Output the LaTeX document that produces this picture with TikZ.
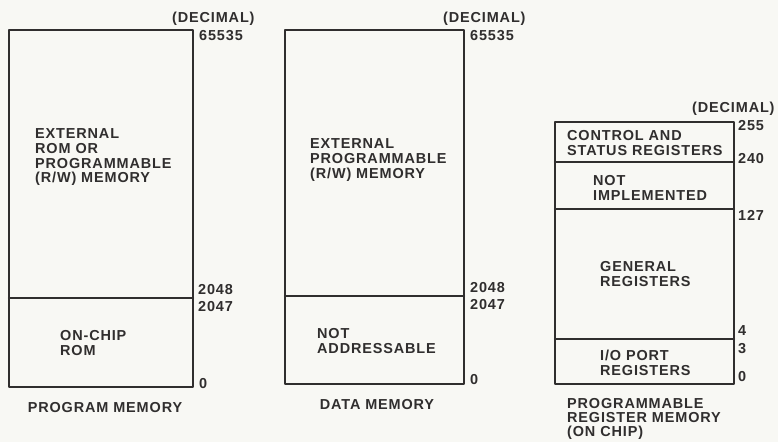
\documentclass[tikz,border=0pt]{standalone}
\usepackage{fontspec}
\setmainfont[LetterSpace=6]{Liberation Sans}
\usepackage{xcolor}
\definecolor{ink}{RGB}{48,46,46}
\definecolor{paper}{RGB}{248,248,244}

\begin{document}
\begin{tikzpicture}[
    x=1bp, y=-1bp,
    line cap=round,
    line join=round,
    memline/.style={line width=2.3bp, draw=ink},
    lbl/.style={font=\bfseries\fontsize{14.5}{15}\selectfont, text=ink, inner sep=0pt},
    addr/.style={lbl, anchor=base west},
    blk/.style={lbl, align=left, anchor=north west}
]

\fill[paper] (0,0) rectangle (778,442);
\useasboundingbox (0,0) rectangle (778,442);

%------------------------------------------------
% Program memory
%------------------------------------------------
\draw[memline] (9,30) rectangle (193,387);
\draw[memline] (9,298) -- (193,298);

\node[blk] (pext) at (35,128) {EXTERNAL\\ROM OR\\PROGRAMMABLE\\(R/W) MEMORY};
\node[blk] (prom) at (60,330) {ON-CHIP\\ROM};

\node[addr] (pdec)  at (172,23)  {(DECIMAL)};
\node[addr] (ptop)  at (199,41)  {65535};
\node[addr] (phi)   at (198,295) {2048};
\node[addr] (plo)   at (198,312) {2047};
\node[addr] (pzero) at (199,388) {0};
\node[lbl, anchor=base] (pname) at (105,412) {PROGRAM MEMORY};

%------------------------------------------------
% Data memory
%------------------------------------------------
\draw[memline] (285,30) rectangle (464,384);
\draw[memline] (285,296) -- (464,296);

\node[blk] (dext) at (310,138) {EXTERNAL\\PROGRAMMABLE\\(R/W) MEMORY};
\node[blk] (dnot) at (317,328) {NOT\\ADDRESSABLE};

\node[addr] (ddec)  at (443,23)  {(DECIMAL)};
\node[addr] (dtop)  at (470,41)  {65535};
\node[addr] (dhi)   at (470,293) {2048};
\node[addr] (dlo)   at (470,310) {2047};
\node[addr] (dzero) at (470,385) {0};
\node[lbl, anchor=base] (dname) at (377,409) {DATA MEMORY};

%------------------------------------------------
% Register memory
%------------------------------------------------
\draw[memline] (555,122) rectangle (734,384);
\draw[memline] (555,162) -- (734,162);
\draw[memline] (555,209) -- (734,209);
\draw[memline] (555,339) -- (734,339);

\node[blk] (rctl) at (567,130) {CONTROL AND\\STATUS REGISTERS};
\node[blk] (rnot) at (593,175) {NOT\\IMPLEMENTED};
\node[blk] (rgen) at (600,261) {GENERAL\\REGISTERS};
\node[blk] (rio)  at (600,350) {I/O PORT\\REGISTERS};

\node[addr] (rdec) at (692,113) {(DECIMAL)};
\node[addr] (rtop) at (738,131) {255};
\node[addr] (rcs)  at (738,164) {240};
\node[addr] (rgp)  at (738,221) {127};
\node[addr] (rfour) at (738,336) {4};
\node[addr] (rthree) at (738,354) {3};
\node[addr] (rzero) at (738,382) {0};
\node[blk, font=\bfseries\fontsize{14.5}{14}\selectfont] (rname) at (567,398) {PROGRAMMABLE\\REGISTER MEMORY\\(ON CHIP)};

\end{tikzpicture}
\end{document}
